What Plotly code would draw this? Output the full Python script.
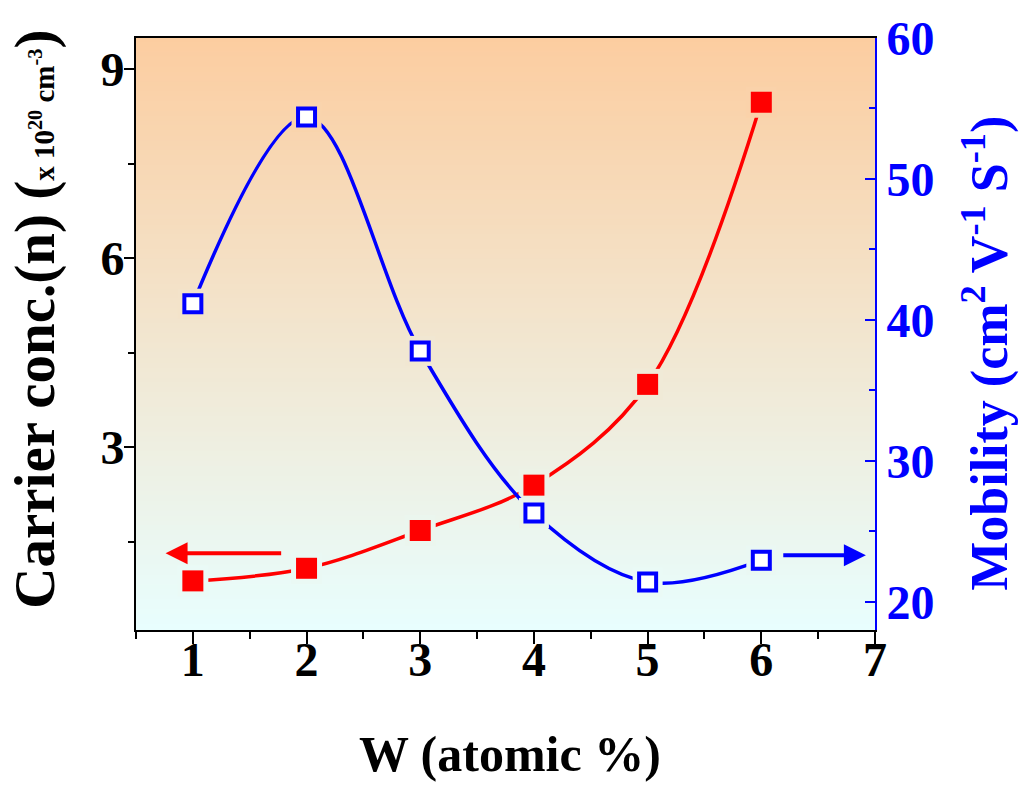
import plotly.graph_objects as go

# ---- data ----
w_pct = [1, 2, 3, 4, 5, 6]
carrier_conc = [0.88, 1.08, 1.68, 2.40, 4.00, 8.48]      # x10^20 cm^-3
mobility = [41.15, 54.4, 37.8, 26.3, 21.4, 22.95]        # cm^2 V^-1 S^-1

x_ticks = [1, 2, 3, 4, 5, 6, 7]
y_ticks = [3, 6, 9]
y2_ticks = [20, 30, 40, 50, 60]

X_RANGE = [0.5, 7]
Y_RANGE = [0.1, 9.5]
Y2_RANGE = [18, 60]

X_TITLE = "<b>W (atomic %)</b>"
Y_TITLE = "<b>Carrier conc.(n) (<span style='font-size:29px'>x 10<sup>20</sup> cm<sup>-3</sup></span>)</b>"
Y2_TITLE = "<b>Mobility (cm<sup>2</sup> V<sup>-1</sup> S<sup>-1</sup>)</b>"

FONT = "Liberation Serif"
RED = "#FF0000"
BLUE = "#0000FF"

TOP_C = (252, 205, 160)
BOT_C = (232, 254, 254)


def grad(frac_from_top):
    f = min(max(frac_from_top, 0), 1)
    c = [round(TOP_C[i] + (BOT_C[i] - TOP_C[i]) * f) for i in range(3)]
    return "rgb(%d,%d,%d)" % tuple(c)


def bg_for(vals, rng):
    return [grad((rng[1] - v) / (rng[1] - rng[0])) for v in vals]


fig = go.Figure()

# carrier concentration (left axis): line, gap, markers
fig.add_trace(go.Scatter(x=w_pct, y=carrier_conc, mode="lines",
                         line=dict(color=RED, width=3.5, shape="spline", smoothing=1.0),
                         hoverinfo="skip", showlegend=False))
fig.add_trace(go.Scatter(x=w_pct, y=carrier_conc, mode="markers",
                         marker=dict(symbol="square", size=31, color=bg_for(carrier_conc, Y_RANGE),
                                     line=dict(width=0), opacity=1),
                         hoverinfo="skip", showlegend=False))
fig.add_trace(go.Scatter(x=w_pct, y=carrier_conc, mode="markers",
                         marker=dict(symbol="square", size=21, color=RED, line=dict(width=0)),
                         name="Carrier conc.", showlegend=False))

# mobility (right axis): line, gap, markers
fig.add_trace(go.Scatter(x=w_pct, y=mobility, yaxis="y2", mode="lines",
                         line=dict(color=BLUE, width=3.5, shape="spline", smoothing=1.0),
                         hoverinfo="skip", showlegend=False))
fig.add_trace(go.Scatter(x=w_pct, y=mobility, yaxis="y2", mode="markers",
                         marker=dict(symbol="square", size=30, color=bg_for(mobility, Y2_RANGE),
                                     line=dict(width=0), opacity=1),
                         hoverinfo="skip", showlegend=False))
fig.add_trace(go.Scatter(x=w_pct, y=mobility, yaxis="y2", mode="markers",
                         marker=dict(symbol="square", size=17, color="white",
                                     line=dict(width=4, color=BLUE)),
                         name="Mobility", showlegend=False))

# gradient background
N = 120
shapes = []
for i in range(N):
    shapes.append(dict(type="rect", xref="x domain", yref="y domain",
                       x0=0, x1=1, y0=1 - (i + 1) / N, y1=1 - i / N + 0.002,
                       fillcolor=grad((i + 0.5) / N), line=dict(width=0), layer="below"))

annotations = [
    dict(x=0.76, y=1.32, xref="x", yref="y", ax=1.79, ay=1.32, axref="x", ayref="y",
         showarrow=True, arrowhead=2, arrowsize=1.1, arrowwidth=4, arrowcolor=RED, text=""),
    dict(x=6.92, y=23.3, xref="x", yref="y2", ax=6.18, ay=23.3, axref="x", ayref="y2",
         showarrow=True, arrowhead=2, arrowsize=1.1, arrowwidth=4, arrowcolor=BLUE, text=""),
    # axis titles
    dict(text=X_TITLE, xref="paper", yref="paper", x=0.506, y=-0.209, showarrow=False,
         xanchor="center", yanchor="middle", font=dict(family=FONT, size=50, color="black")),
    dict(text=Y_TITLE, xref="paper", yref="paper", x=-0.136, y=0.525, showarrow=False,
         textangle=-90, xanchor="center", yanchor="middle",
         font=dict(family=FONT, size=57, color="black")),
    dict(text=Y2_TITLE, xref="paper", yref="paper", x=1.150, y=0.468, showarrow=False,
         textangle=-90, xanchor="center", yanchor="middle",
         font=dict(family=FONT, size=52, color=BLUE)),
]

fig.update_layout(
    width=1026, height=785,
    margin=dict(l=136, r=151, t=32, b=155),
    paper_bgcolor="white", plot_bgcolor=grad(0.5),
    font=dict(family=FONT, color="black"),
    shapes=shapes, annotations=annotations,
    xaxis=dict(range=X_RANGE, tickvals=x_ticks, showgrid=False, zeroline=False,
               showline=True, linecolor="black", linewidth=2, mirror=True,
               ticks="outside", ticklen=12, tickwidth=2, tickcolor="black",
               minor=dict(ticks="outside", ticklen=7, tickwidth=2, tickcolor="black", dtick=0.5, tick0=0.5),
               tickfont=dict(family=FONT, size=48, color="black", weight="bold"),
               ticklabelstandoff=-26),
    yaxis=dict(range=Y_RANGE, tickvals=y_ticks, showgrid=False, zeroline=False,
               showline=True, linecolor="black", linewidth=2,
               ticks="outside", ticklen=10, tickwidth=2, tickcolor="black",
               minor=dict(ticks="outside", ticklen=6, tickwidth=2, tickcolor="black", dtick=1.5, tick0=0),
               tickfont=dict(family=FONT, size=48, color="black", weight="bold"),
               ticklabelstandoff=-10),
    yaxis2=dict(range=Y2_RANGE, tickvals=y2_ticks, overlaying="y", side="right",
                showgrid=False, zeroline=False,
                showline=True, linecolor=BLUE, linewidth=2,
                ticks="inside", ticklen=10, tickwidth=2, tickcolor=BLUE,
                minor=dict(ticks="inside", ticklen=6, tickwidth=2, tickcolor=BLUE, dtick=5, tick0=0),
                tickfont=dict(family=FONT, size=48, color=BLUE, weight="bold")),
)

fig.write_html("out.html")
